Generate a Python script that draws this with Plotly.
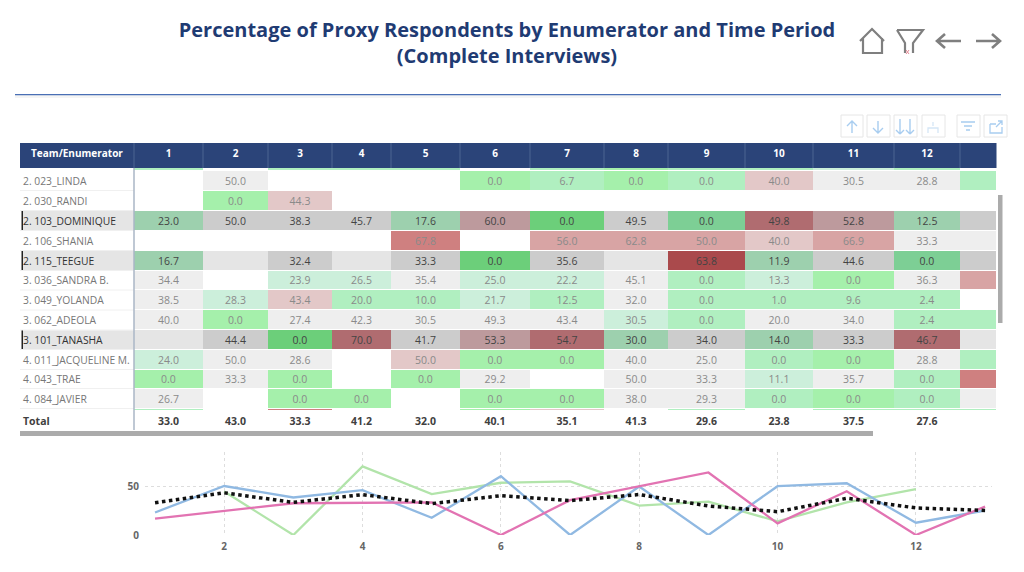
import plotly.graph_objects as go

TITLE = "Percentage of Proxy Respondents by Enumerator and Time Period<br>(Complete Interviews)"
PERIODS = ["1", "2", "3", "4", "5", "6", "7", "8", "9", "10", "11", "12"]
N = None

names = ["2. 023_LINDA", "2. 030_RANDI", "2. 103_DOMINIQUE", "2. 106_SHANIA", "2. 115_TEEGUE",
         "3. 036_SANDRA B.", "3. 049_YOLANDA", "3. 062_ADEOLA", "3. 101_TANASHA",
         "4. 011_JACQUELINE M.", "4. 043_TRAE", "4. 084_JAVIER"]
highlighted = ["2. 103_DOMINIQUE", "2. 115_TEEGUE", "3. 101_TANASHA"]

linda = [N, 50.0, N, N, N, 0.0, 6.7, 0.0, 0.0, 40.0, 30.5, 28.8]
randi = [N, 0.0, 44.3, N, N, N, N, N, N, N, N, N]
dominique = [23.0, 50.0, 38.3, 45.7, 17.6, 60.0, 0.0, 49.5, 0.0, 49.8, 52.8, 12.5]
shania = [N, N, N, N, 67.8, N, 56.0, 62.8, 50.0, 40.0, 66.9, 33.3]
teegue = [16.7, N, 32.4, N, 33.3, 0.0, 35.6, N, 63.8, 11.9, 44.6, 0.0]
sandra = [34.4, N, 23.9, 26.5, 35.4, 25.0, 22.2, 45.1, 0.0, 13.3, 0.0, 36.3]
yolanda = [38.5, 28.3, 43.4, 20.0, 10.0, 21.7, 12.5, 32.0, 0.0, 1.0, 9.6, 2.4]
adeola = [40.0, 0.0, 27.4, 42.3, 30.5, 49.3, 43.4, 30.5, 0.0, 20.0, 34.0, 2.4]
tanasha = [N, 44.4, 0.0, 70.0, 41.7, 53.3, 54.7, 30.0, 34.0, 14.0, 33.3, 46.7]
jacqueline = [24.0, 50.0, 28.6, N, 50.0, 0.0, 0.0, 40.0, 25.0, 0.0, 0.0, 28.8]
trae = [0.0, 33.3, 0.0, N, 0.0, 29.2, N, 50.0, 33.3, 11.1, 35.7, 0.0]
javier = [26.7, N, 0.0, 0.0, N, 0.0, 0.0, 38.0, 29.3, 0.0, 0.0, 0.0]
total = [33.0, 43.0, 33.3, 41.2, 32.0, 40.1, 35.1, 41.3, 29.6, 23.8, 37.5, 27.6]

# Period 13 is only visible in the line chart
dominique_13 = 25.0
teegue_13 = 29.0
total_13 = 25.0

# Cell colour classes
palette = {"G": "#a5f0ab", "M": "#b0efc0", "L": "#ccefdb", "E": "#eeeeee", "P": "#e3c8c8",
           "R": "#d8a4a4", "D": "#cf8080", "H": "#e5e5e5", "C": "#cccccc", "A": "#9dd0ae",
           "B": "#6ccf7a", "K": "#7dcf95", "V": "#bd9a9d", "X": "#b06c70", "Y": "#aa4a4c"}
cell_classes = [
    "M.MMM.MGMMLM.",  # clipped row above
    ".E...GMGMPEEM",
    ".GP..........",
    "ACCCAVBCKXVAC",
    "....D.RRRPREE",
    "AHCHCBCHYACKC",
    "E.LLELLEMLGER",
    "ELPMMLMEMMMM.",
    "EGEEEEELMEEMM",
    "HCBXCVXACACXH",
    "LEE.PGGEEMGEM",
    "GEG.GE.EELEMD",
    "E.GG.GGEEMGME",
    "M.D..GP.M.MMM",  # clipped row below
]

COL_EDGES = [134, 203, 268, 332, 391, 460, 530, 604, 668, 745, 813, 894, 960, 996]
ROW_EDGES = [168, 170.5, 190.5, 210.5, 230.5, 250.5, 270.5, 290, 310, 330, 349.5, 369.5, 388.5, 408.5, 411]

keys = list(palette)
rows = [linda, randi, dominique, shania, teegue, sandra, yolanda, adeola, tanasha, jacqueline, trae, javier]
z = [[keys.index(c) if c != "." else None for c in row] for row in cell_classes]
scale = [[i / (len(keys) - 1), palette[k]] for i, k in enumerate(keys)]
FONT = "Open Sans"
TEXT_DROP = 1.5

fig = go.Figure()
fig.add_trace(go.Heatmap(x=COL_EDGES, y=ROW_EDGES, z=z, colorscale=scale, zmin=0, zmax=len(keys) - 1,
                         showscale=False, ygap=1, hoverinfo="skip", xaxis="x", yaxis="y"))

col_mid = [(a + b) / 2 for a, b in zip(COL_EDGES[:-1], COL_EDGES[1:])]
tx, ty, tt, tc = [], [], [], []
for r, (name, vals) in enumerate(zip(names, rows)):
    mid = (ROW_EDGES[r + 1] + ROW_EDGES[r + 2]) / 2 + TEXT_DROP
    for c, v in enumerate(vals):
        if v is not None:
            tx.append(col_mid[c]); ty.append(mid); tt.append(f"{v:.1f}")
            tc.append("#444444" if name in highlighted else "#8a8a8a")
fig.add_trace(go.Scatter(x=tx, y=ty, text=tt, mode="text", textposition="middle center",
                         textfont=dict(family=FONT, size=10.5, color=tc), hoverinfo="skip", showlegend=False))

label_y = [(ROW_EDGES[r + 1] + ROW_EDGES[r + 2]) / 2 + TEXT_DROP for r in range(len(names))]
fig.add_trace(go.Scatter(x=[23] * len(names), y=label_y, text=names, mode="text", textposition="middle right",
                         textfont=dict(family=FONT, size=10.3,
                                       color=["#333333" if n in highlighted else "#777777" for n in names]),
                         hoverinfo="skip", showlegend=False))
fig.add_trace(go.Scatter(x=[77] + col_mid[:12], y=[154] * 13, text=["Team/Enumerator"] + PERIODS, mode="text",
                         textposition="middle center",
                         textfont=dict(family=FONT, size=10, color="white", weight=700),
                         hoverinfo="skip", showlegend=False))
fig.add_trace(go.Scatter(x=[23], y=[422], text=["Total"], mode="text", textposition="middle right",
                         textfont=dict(family=FONT, size=10.5, color="#404040", weight=700),
                         hoverinfo="skip", showlegend=False))
fig.add_trace(go.Scatter(x=col_mid[:12], y=[422] * 12, text=[f"{v:.1f}" for v in total], mode="text",
                         textposition="middle center",
                         textfont=dict(family=FONT, size=10.5, color="#404040", weight=700),
                         hoverinfo="skip", showlegend=False))

# Line chart
xs = list(range(1, 14))
for vals, color, width, dash in [
    (tanasha, "#b2e4aa", 2.3, "solid"),
    (dominique + [dominique_13], "#90b9e2", 2.3, "solid"),
    (teegue + [teegue_13], "#e273b2", 2.3, "solid"),
    (total + [total_13], "#111111", 3.5, "3.5px,3.5px"),
]:
    fig.add_trace(go.Scatter(x=xs[:len(vals)], y=vals, mode="lines", connectgaps=True, cliponaxis=False,
                             line=dict(color=color, width=width, dash=dash), xaxis="x2", yaxis="y2",
                             hoverinfo="skip", showlegend=False))

shapes = []


def rect(x0, y0, x1, y1, fill, layer="below"):
    shapes.append(dict(type="rect", x0=x0, y0=y0, x1=x1, y1=y1, fillcolor=fill, line_width=0, layer=layer,
                       xref="x", yref="y"))


def line(path, color, width, layer="above"):
    shapes.append(dict(type="path", path=path, line=dict(color=color, width=width), layer=layer,
                       xref="x", yref="y"))


# Title rule and its soft shadow
rect(15, 95, 1001, 98, "#f5f5f5")
rect(15, 94, 1001, 95.3, "#4a6fb5")
# Table header
rect(20, 143, 996.5, 168, "#2b4479")
for e in COL_EDGES[:-1]:
    line(f"M{e},143 L{e},168", "#4c6492", 1)
# Row lines and highlighted label cells
for y in ROW_EDGES[2:-1]:
    line(f"M20,{y} L134,{y}", "#f0f0f0", 1, "below")
for name in highlighted:
    r = names.index(name)
    rect(22, ROW_EDGES[r + 1] + 0.5, 134, ROW_EDGES[r + 2] - 0.5, "#e5e5e5")
    rect(21.5, ROW_EDGES[r + 1] + 0.5, 23, ROW_EDGES[r + 2] - 0.5, "#222222", "above")
line("M134,168 L134,430", "#aab6c6", 1.5)
# Scrollbars
rect(20, 431, 873, 436, "#ababab")
rect(998, 195, 1002.5, 323, "#ababab")
# Navigation icons
GREY = "#7f7f7f"
line("M860,41 L872,29 L884,41 M863,38 L863,53 L882,53 L882,38", GREY, 2.2)
line("M897,30 L923,30 L913,43 L913,53 M897,30 L905,43 L905,53", GREY, 2.2)
line("M906,50 L909,54 M909,50 L906,54", "#e58a96", 1)
line("M937,41 L961,41 M945,34 L937,41 L945,48", GREY, 2.6)
line("M976,41 L1000,41 M992,34 L1000,41 L992,48", GREY, 2.6)
# Visual header buttons
for x0, x1 in [(841, 863), (867, 890), (894, 917), (922, 945), (957, 980), (984, 1007)]:
    shapes.append(dict(type="rect", x0=x0, x1=x1, y0=115, y1=137, line=dict(color="#e6e6e6", width=1),
                       fillcolor="rgba(0,0,0,0)", xref="x", yref="y"))
BLUE = "#a8cdf0"
line("M852,133 L852,121 M847,126 L852,121 L857,126", BLUE, 1.4)
line("M878,121 L878,133 M873,128 L878,133 L883,128", BLUE, 1.4)
line("M900,119 L900,134 M896,130 L900,134 M904,130 L900,134", BLUE, 1.4)
line("M910,119 L910,134 M906,130 L910,134 M914,130 L910,134", BLUE, 1.4)
line("M933,122 L933,126 M928,133 L928,128 L938,128 L938,133", "#d5e6f6", 1.3)
line("M961,122 L975,122 M964,126 L972,126 M966,130 L970,130", BLUE, 1.3)
line("M990,124 L990,133 L1002,133 L1002,127 M990,124 L996,124 M996,127 L1002,121 M998,121 L1002,121 L1002,125",
     BLUE, 1.3)

fig.update_layout(
    width=1024, height=572, margin=dict(l=0, r=0, t=0, b=0, autoexpand=False),
    paper_bgcolor="white", plot_bgcolor="rgba(0,0,0,0)", showlegend=False, shapes=shapes,
    title=dict(text=TITLE, x=507 / 1024, xanchor="center", y=1 - 37 / 572, yanchor="middle",
               font=dict(family=FONT, size=20, color="#1f3b73", weight=700)),
    xaxis=dict(range=[0, 1024], domain=[0, 1], visible=False, fixedrange=True),
    yaxis=dict(range=[572, 0], domain=[0, 1], visible=False, fixedrange=True),
    xaxis2=dict(domain=[145 / 1024, 992 / 1024], range=[0.855, 13.1], anchor="y2", tickvals=[2, 4, 6, 8, 10, 12],
                showgrid=True, griddash="dot", gridcolor="#dddddd", gridwidth=1, zeroline=False, showline=False,
                tickfont=dict(family=FONT, size=10, color="#666666", weight=700), ticks="", ticklabelstandoff=4),
    yaxis2=dict(domain=[1 - 535 / 572, 1 - 452 / 572], range=[0, 84.7], anchor="x2", tickvals=[0, 50],
                showgrid=True, griddash="dot", gridcolor="#dddddd", gridwidth=1, zeroline=False, showline=False,
                tickfont=dict(family=FONT, size=10, color="#666666", weight=700), ticks="", ticklabelstandoff=5),
)

fig.write_html("out.html", config={"displayModeBar": False},
               post_script="document.body.style.margin='0';document.documentElement.style.overflow='hidden';")
